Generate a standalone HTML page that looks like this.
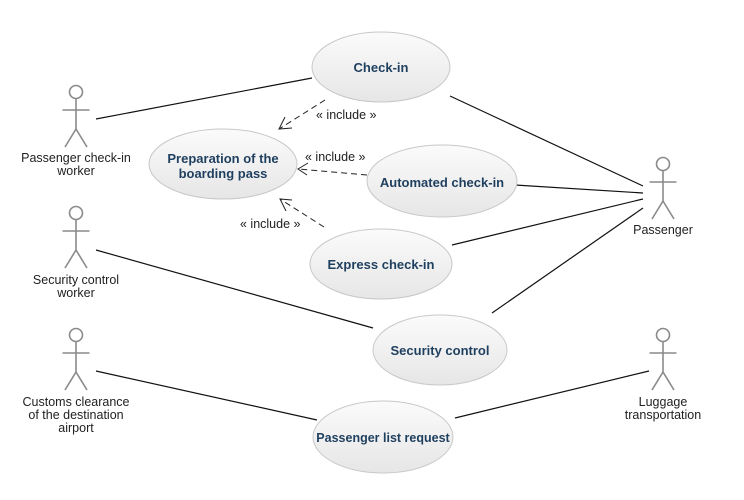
<!DOCTYPE html>
<html><head><meta charset="utf-8"><style>
html,body{margin:0;padding:0;background:#fff;}
svg{display:block;font-family:"Liberation Sans",Arial,sans-serif;}
.uc{fill:url(#g);stroke:#c8c8c8;stroke-width:1;}
.ut{fill:#1f3f5f;font-weight:bold;font-size:13px;text-anchor:middle;}
.at{fill:#222;font-size:12.5px;text-anchor:middle;}
.ac{stroke:#8a8a8a;stroke-width:1.6;fill:none;}
.ln{stroke:#111;stroke-width:1.2;}
.ds{stroke:#222;stroke-width:1;stroke-dasharray:6,4;fill:none;}
.ar{stroke:#222;stroke-width:1;fill:none;}
.il{fill:#222;font-size:12.5px;}
</style></head><body>
<svg width="744" height="500" viewBox="0 0 744 500" xmlns="http://www.w3.org/2000/svg">
<defs>
<linearGradient id="g" x1="0" y1="0" x2="0" y2="1">
<stop offset="0" stop-color="#fbfbfb"/><stop offset="1" stop-color="#e6e6e6"/>
</linearGradient>
<g id="actor">
<circle cx="0" cy="0" r="6.5" class="ac"/>
<line x1="0" y1="6.5" x2="0" y2="37" class="ac"/>
<line x1="-13.5" y1="18" x2="13.5" y2="18" class="ac"/>
<line x1="0" y1="37" x2="-11" y2="55" class="ac"/>
<line x1="0" y1="37" x2="11" y2="55" class="ac"/>
</g>
</defs>

<line x1="96" y1="119" x2="312" y2="78" class="ln"/>
<line x1="450" y1="96" x2="643" y2="186" class="ln"/>
<line x1="515" y1="185" x2="643" y2="193" class="ln"/>
<line x1="452" y1="245" x2="643" y2="199" class="ln"/>
<line x1="492" y1="313" x2="643" y2="208" class="ln"/>
<line x1="96" y1="250" x2="373" y2="328" class="ln"/>
<line x1="96" y1="371" x2="317" y2="420" class="ln"/>
<line x1="649" y1="371" x2="455" y2="418" class="ln"/>

<line x1="325" y1="100" x2="279" y2="129" class="ds"/>
<polyline points="285,117 279,129 292,128" class="ar"/>
<line x1="367" y1="175" x2="298" y2="169" class="ds"/>
<polyline points="308,163 298,169 307,175" class="ar"/>
<line x1="324" y1="227" x2="280" y2="199" class="ds"/>
<polyline points="292,200 280,199 286,211" class="ar"/>

<text x="316" y="119" class="il">« include »</text>
<text x="305" y="161" class="il">« include »</text>
<text x="240" y="228" class="il">« include »</text>

<ellipse cx="381" cy="67" rx="69" ry="35" class="uc"/>
<text x="381" y="72" class="ut">Check-in</text>
<ellipse cx="223" cy="164" rx="74" ry="35" class="uc"/>
<text x="223" y="163" class="ut">Preparation of the</text>
<text x="223" y="178" class="ut">boarding pass</text>
<ellipse cx="442" cy="181" rx="75" ry="36" class="uc"/>
<text x="442" y="187" class="ut">Automated check-in</text>
<ellipse cx="381" cy="264" rx="71" ry="35" class="uc"/>
<text x="381" y="269" class="ut">Express check-in</text>
<ellipse cx="440" cy="350" rx="67" ry="35" class="uc"/>
<text x="440" y="355" class="ut">Security control</text>
<ellipse cx="383" cy="437" rx="70" ry="36" class="uc"/>
<text x="383" y="442" class="ut" style="font-size:12.5px">Passenger list request</text>

<use href="#actor" x="76" y="92"/>
<text x="76" y="162" class="at">Passenger check-in</text>
<text x="76" y="175" class="at">worker</text>
<use href="#actor" x="76" y="213"/>
<text x="76" y="284" class="at">Security control</text>
<text x="76" y="297" class="at">worker</text>
<use href="#actor" x="76" y="335"/>
<text x="76" y="406" class="at">Customs clearance</text>
<text x="76" y="419" class="at">of the destination</text>
<text x="76" y="432" class="at">airport</text>
<use href="#actor" x="663" y="164"/>
<text x="663" y="234" class="at">Passenger</text>
<use href="#actor" x="663" y="335"/>
<text x="663" y="406" class="at">Luggage</text>
<text x="663" y="419" class="at">transportation</text>
</svg>
</body></html>
